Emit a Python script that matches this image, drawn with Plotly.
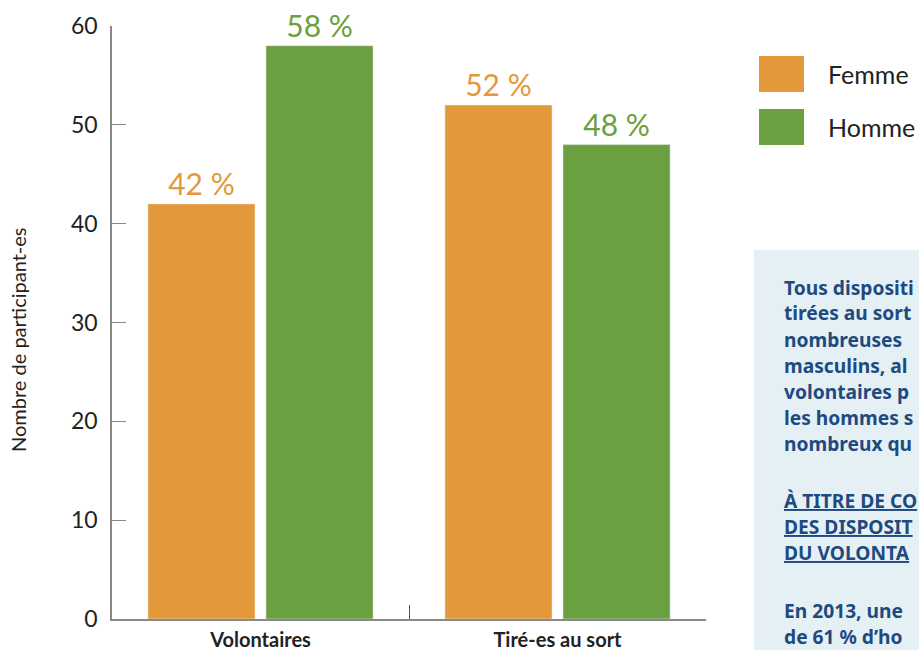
import plotly.graph_objects as go

categories = ["Volontaires", "Tiré-es au sort"]
femme = [42, 52]
homme = [58, 48]
femme_labels = ["42 %", "52 %"]
homme_labels = ["58 %", "48 %"]
y_ticks = [0, 10, 20, 30, 40, 50, 60]

ORANGE = "#e3993a"
GREEN = "#6aa040"
FONT = "Lato"
BOX_FONT = "Noto Sans"
BLUE = "#1e4a80"

W, H = 919, 650
L, R, T, B = 112, 213, 26, 31
PW = W - L - R
PH = H - T - B

def px(x):
    return (x - L) / PW

def py(y):
    return (H - B - y) / PH

fig = go.Figure()
fig.add_trace(go.Bar(
    x=categories, y=femme, name="Femme", marker_color=ORANGE,
    text=femme_labels, textposition="outside", cliponaxis=False,
    textfont=dict(family=FONT, size=30, color=ORANGE),
))
fig.add_trace(go.Bar(
    x=categories, y=homme, name="Homme", marker_color=GREEN,
    text=homme_labels, textposition="outside", cliponaxis=False,
    textfont=dict(family=FONT, size=30, color=GREEN),
))

shapes = []
annotations = []

# legend
for i, (name, col) in enumerate([("Femme", ORANGE), ("Homme", GREEN)]):
    y0 = 56 + i * 53
    shapes.append(dict(type="rect", xref="paper", yref="paper",
                       x0=px(759), x1=px(804), y0=py(y0 + 36), y1=py(y0),
                       fillcolor=col, line=dict(width=0)))
    annotations.append(dict(xref="paper", yref="paper", x=px(826), y=py(y0 + 18),
                            xanchor="left", yanchor="middle", showarrow=False,
                            text=name, font=dict(family=FONT, size=25, color="#222222")))

# info box
shapes.append(dict(type="rect", xref="paper", yref="paper",
                   x0=px(754), x1=px(960), y0=py(250), y1=py(670),
                   fillcolor="#e5f0f5", line=dict(width=0), layer="below"))

box_lines = [
    (287, "<b>Tous dispositi</b>"),
    (313, "<b>tirées au sort</b>"),
    (339, "<b>nombreuses</b>"),
    (365, "<b>masculins, al</b>"),
    (391, "<b>volontaires p</b>"),
    (417, "<b>les hommes s</b>"),
    (443, "<b>nombreux qu</b>"),
    (500, "<b><u>À TITRE DE CO</u></b>"),
    (526, "<b><u>DES DISPOSIT</u></b>"),
    (552, "<b><u>DU VOLONTA</u></b>"),
    (610, "<b>En 2013, une</b>"),
    (636, "<b>de 61 % d’ho</b>"),
]
for yy, txt in box_lines:
    annotations.append(dict(xref="paper", yref="paper", x=px(782), y=py(yy),
                            xanchor="left", yanchor="middle", showarrow=False,
                            text=txt, font=dict(family=BOX_FONT, size=19.2, color=BLUE)))

# y axis title
annotations.append(dict(xref="paper", yref="paper", x=px(18), y=py(340),
                        xanchor="center", yanchor="middle", showarrow=False,
                        textangle=-90, text="Nombre de participant-es",
                        font=dict(family=FONT, size=20, color="#222222")))

fig.update_layout(
    width=W, height=H,
    margin=dict(l=L, r=R, t=T, b=B, pad=0),
    paper_bgcolor="white", plot_bgcolor="white",
    barmode="group", bargap=0.205, bargroupgap=0.093,
    showlegend=False,
    shapes=shapes, annotations=annotations,
    font=dict(family=FONT, color="#222222"),
)
fig.update_xaxes(
    type="category", showline=True, linecolor="#888888", linewidth=1.5,
    ticks="inside", tickson="boundaries", ticklen=14, tickcolor="#555555",
    tickfont=dict(family=FONT, size=20, color="#222222", weight="bold"),
    showgrid=False, zeroline=False, ticklabelstandoff=2, automargin=False,
)
fig.update_yaxes(
    range=[0, 60], tickvals=y_ticks, showline=True, linecolor="#888888", linewidth=1.5,
    ticks="inside", ticklen=14, tickcolor="#888888",
    tickfont=dict(family=FONT, size=23, color="#222222"),
    showgrid=False, zeroline=False, ticklabelstandoff=8, automargin=False,
)

fig.write_html("out.html")
